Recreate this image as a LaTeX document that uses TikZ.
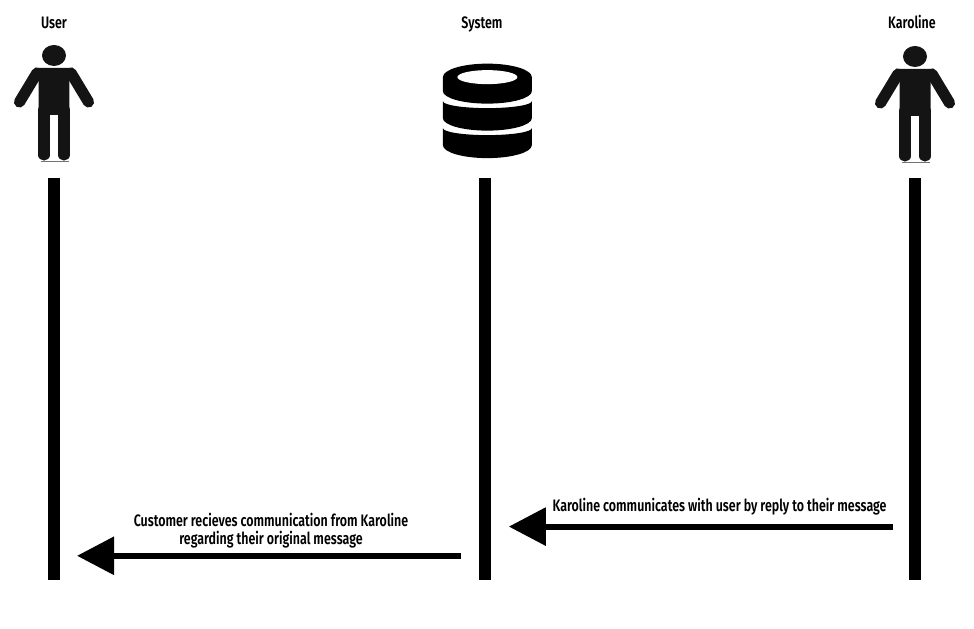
\documentclass[tikz,border=0pt]{standalone}
\usepackage{fontspec}
\setmainfont[FakeStretch=0.75]{Fira Sans SemiBold}
\usetikzlibrary{arrows.meta}

\begin{document}
\begin{tikzpicture}[
mylabel/.style={
    align=center,
    inner sep=0pt,
    font=\fontsize{11.8}{13.2}\selectfont},
mytitle/.style={
    mylabel,
    anchor=base},
lifeline/.style={
    draw,
    line width=0.3cm},
message/.style={
    draw,
    line width=0.15cm,
    -{Triangle[length=0.925cm, width=0.925cm]}},
actor/.pic={
    \fill[black!92] (0,-55.5) ellipse [x radius=12, y radius=10.5];
    \fill[black!92] (-19,-68) -- (19,-68) -- (15.5,-80) -- (15.5,-115) -- (-15.5,-115) -- (-15.5,-80) -- cycle;
    \draw[black!92, line width=0.28cm, line cap=round] (-17,-73) -- (-34.5,-102);
    \draw[black!92, line width=0.28cm, line cap=round] (17,-73) -- (34.5,-102);
    \draw[black!92, line width=0.28cm, line cap=round] (-10,-110) -- (-10,-155);
    \draw[black!92, line width=0.28cm, line cap=round] (10,-110) -- (10,-155);
    \draw[black!55, line width=0.04cm] (-13,-161.5) -- (15,-161.5);
}
]

\useasboundingbox (0 cm, 0 cm) rectangle (24.35 cm, 15.725 cm);

% titles
\node (user) at (1.35 cm, 15.01 cm) [mytitle] {User};
\node (system) at (12.05 cm, 15.01 cm) [mytitle] {System};
\node (karoline) at (22.8 cm, 15.01 cm) [mytitle] {Karoline};

% icons
\pic [x=0.025cm, y=0.025cm] at (1.35 cm, 15.725 cm) {actor};
\pic [x=0.025cm, y=0.025cm] at (22.875 cm, 15.7 cm) {actor};

\begin{scope}[x=0.025cm, y=0.025cm, shift={(487.5,629)}]
\fill (-44.5,-77) arc [start angle=180, end angle=0, x radius=44.5, y radius=13.5]
    -- (44.5,-91) arc [start angle=0, end angle=-180, x radius=44.5, y radius=12.5] -- cycle;
\fill[white] (0,-77) ellipse [x radius=30, y radius=7];
\fill (-44.5,-101) arc [start angle=180, end angle=360, x radius=44.5, y radius=7]
    -- (44.5,-118) arc [start angle=0, end angle=-180, x radius=44.5, y radius=12.5] -- cycle;
\fill (-44.5,-128) arc [start angle=180, end angle=360, x radius=44.5, y radius=7]
    -- (44.5,-145) arc [start angle=0, end angle=-180, x radius=44.5, y radius=13] -- cycle;
\end{scope}

% lifelines
\coordinate (usertop) at (1.35 cm, 11.275 cm);
\coordinate (userbot) at (1.35 cm, 1.225 cm);
\coordinate (systemtop) at (12.115 cm, 11.275 cm);
\coordinate (systembot) at (12.115 cm, 1.225 cm);
\coordinate (karolinetop) at (22.875 cm, 11.275 cm);
\coordinate (karolinebot) at (22.875 cm, 1.225 cm);

\draw[lifeline] (usertop) -- (userbot);
\draw[lifeline] (systemtop) -- (systembot);
\draw[lifeline] (karolinetop) -- (karolinebot);

% messages
\coordinate (replyfrom) at (22.325 cm, 2.56 cm);
\coordinate (replyto) at (12.72 cm, 2.56 cm);
\coordinate (recvfrom) at (11.52 cm, 1.83 cm);
\coordinate (recvto) at (1.925 cm, 1.83 cm);

\draw[message] (replyfrom) -- (replyto);
\draw[message] (recvfrom) -- (recvto);

\node (replytext) at (17.99 cm, 3.06 cm) [mylabel] {Karoline communicates with user by reply to their message};
\node (recvtext) at (6.775 cm, 2.46 cm) [mylabel] {Customer recieves communication from Karoline\\regarding their original message};

\end{tikzpicture}
\end{document}
